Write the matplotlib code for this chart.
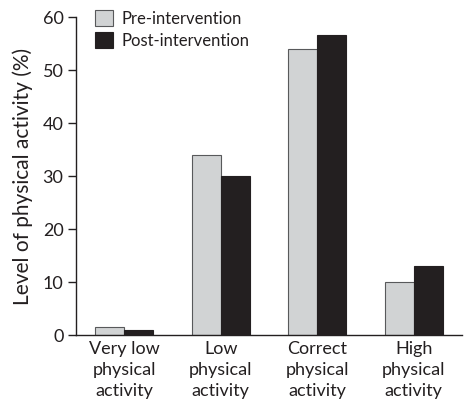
import numpy as np
import matplotlib.pyplot as plt

categories = ["Very low\nphysical\nactivity", "Low\nphysical\nactivity",
              "Correct\nphysical\nactivity", "High\nphysical\nactivity"]
pre = [1.5, 34, 54, 10]
post = [0.9, 30, 56.7, 13]

plt.rcParams['font.family'] = ['Lato', 'DejaVu Sans']

fig = plt.figure(figsize=(4.66, 4.03), dpi=100)
ax = fig.add_axes([76/466, 1 - 335/403, (462 - 76)/466, (335 - 17.5)/403])

x = np.arange(len(categories))
w = 0.3
ax.bar(x - w/2, pre, w, color='#d1d3d4', edgecolor='#58595b', linewidth=0.8,
       label='Pre-intervention')
ax.bar(x + w/2, post, w, color='#231f20', edgecolor='#231f20', linewidth=0.8,
       label='Post-intervention')

ax.set_xlim(-0.5, 3.5)
ax.set_ylim(0, 60)
ax.set_yticks(range(0, 61, 10))
ax.set_xticks(x)
ax.set_xticklabels(categories, fontsize=13, color='#231f20', linespacing=1.4)
ax.tick_params(axis='x', length=0, pad=4)
ax.tick_params(axis='y', labelsize=13, labelcolor='#231f20', length=6,
               width=1, color='#231f20', pad=3)
for s in ['top', 'right']:
    ax.spines[s].set_visible(False)
for s in ['left', 'bottom']:
    ax.spines[s].set_color('#231f20')
    ax.spines[s].set_linewidth(1)

ax.set_ylabel('Level of physical activity (%)', fontsize=15, color='#231f20',
              labelpad=7)

ax.legend(loc='upper left', bbox_to_anchor=(0.01, 1.07), frameon=False,
          fontsize=12, handlelength=1.1, handleheight=1.1, handletextpad=0.5,
          labelspacing=0.3, labelcolor='#231f20')

fig.savefig('out.png', dpi=100)
